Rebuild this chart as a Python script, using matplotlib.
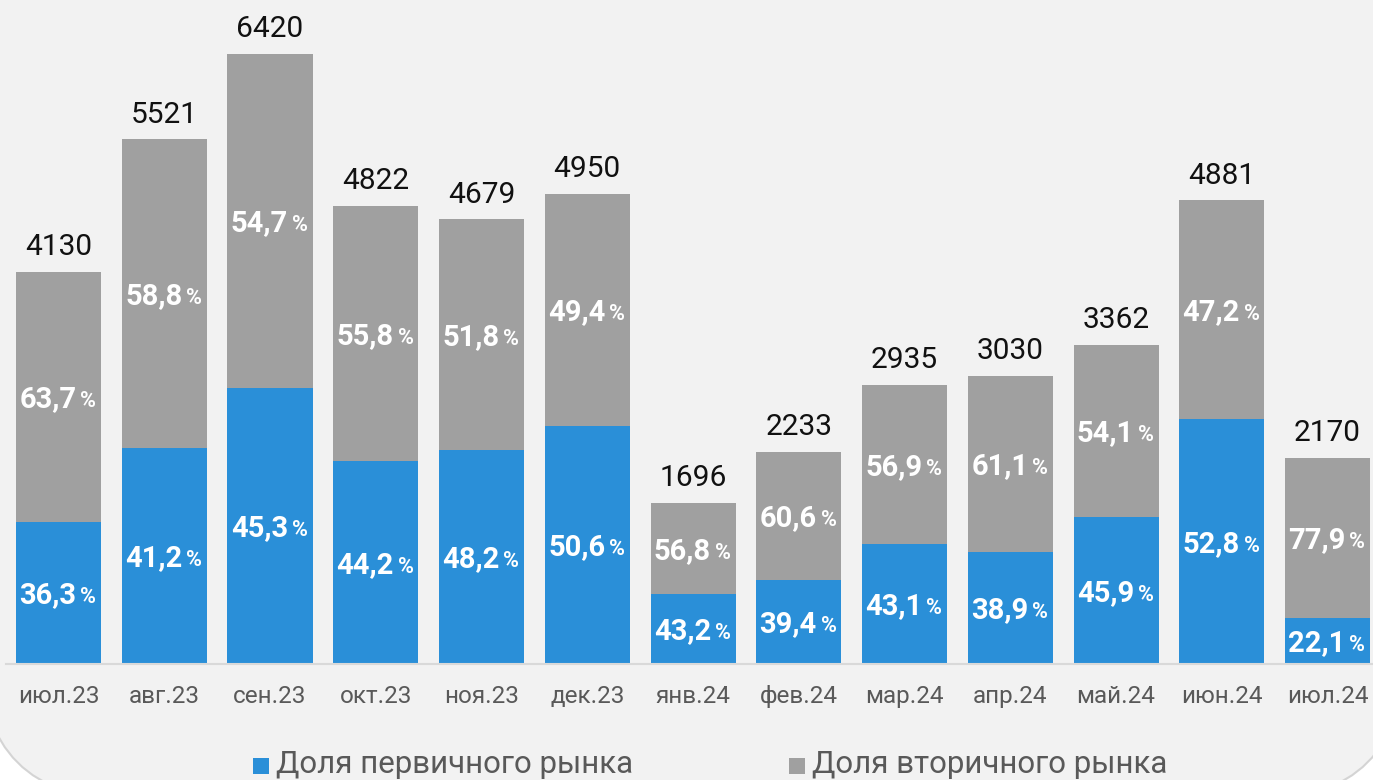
import matplotlib
matplotlib.use('Agg')
import matplotlib.pyplot as plt
from matplotlib.patches import FancyBboxPatch, Rectangle
from matplotlib.transforms import IdentityTransform

plt.rcParams['font.family'] = ['Roboto', 'DejaVu Sans']

months = ['июл.23', 'авг.23', 'сен.23', 'окт.23', 'ноя.23', 'дек.23', 'янв.24',
          'фев.24', 'мар.24', 'апр.24', 'май.24', 'июн.24', 'июл.24']
totals = [4130, 5521, 6420, 4822, 4679, 4950, 1696, 2233, 2935, 3030, 3362, 4881, 2170]
primary = [36.3, 41.2, 45.3, 44.2, 48.2, 50.6, 43.2, 39.4, 43.1, 38.9, 45.9, 52.8, 22.1]
secondary = [63.7, 58.8, 54.7, 55.8, 51.8, 49.4, 56.8, 60.6, 56.9, 61.1, 54.1, 47.2, 77.9]
legend_names = ['Доля первичного рынка', 'Доля вторичного рынка']

blue = '#2a8fd8'
grey = '#a0a0a0'
W, H = 1373, 780

fig = plt.figure(figsize=(W / 100, H / 100), dpi=100, facecolor='white')

# rounded background card (pixel coords)
card = FancyBboxPatch((-20, -20), 1425, 1000, boxstyle='round,pad=0,rounding_size=150',
                      transform=IdentityTransform(), facecolor='#f2f2f2',
                      edgecolor='#d4d4d4', linewidth=1.5, zorder=-5)
fig.patches.append(card)

ax = fig.add_axes([6 / W, 116 / H, 1 - 6 / W, 664 / H])
ax.set_facecolor('none')
ax.set_zorder(2)

x = list(range(len(months)))
blue_h = [t * p / 100 for t, p in zip(totals, primary)]
grey_h = [t * s / 100 for t, s in zip(totals, secondary)]

ax.bar(x, blue_h, width=0.804, color=blue, zorder=2)
ax.bar(x, grey_h, width=0.804, bottom=blue_h, color=grey, zorder=2)

ax.set_xlim(-0.4965, 12.43)
ax.set_ylim(0, 6988)


def pct_label(xc, yc, val):
    s = f'{val:.1f}'.replace('.', ',')
    ax.annotate(s, (xc, yc), xytext=(13, -7.4), textcoords='offset points',
                ha='right', va='baseline', fontsize=21, fontweight='bold',
                color='white', zorder=3)
    ax.annotate('%', (xc, yc), xytext=(15.8, -7.4), textcoords='offset points',
                ha='left', va='baseline', fontsize=15.5, fontweight='bold',
                color='white', zorder=3)


for i in x:
    pct_label(i, blue_h[i] / 2, primary[i])
    pct_label(i, blue_h[i] + grey_h[i] / 2, secondary[i])
    ax.annotate(str(totals[i]), (i, totals[i]), xytext=(0, 12), textcoords='offset points',
                ha='center', va='baseline', fontsize=21.5, color='#111111')

ax.set_xticks(x)
ax.set_xticklabels(months, fontsize=17.5, color='#595959')
ax.tick_params(axis='x', length=0, pad=15)
ax.set_yticks([])
for side in ['top', 'right', 'left']:
    ax.spines[side].set_visible(False)
ax.spines['bottom'].set_color('#d9d9d9')
ax.spines['bottom'].set_linewidth(1.5)

# legend drawn by hand at the bottom
for px, col, name in [(253, blue, legend_names[0]), (789, grey, legend_names[1])]:
    fig.patches.append(Rectangle((px, 6), 16, 16, transform=IdentityTransform(),
                                 facecolor=col, edgecolor='none'))
    fig.text((px + 23) / W, 7 / H, name, fontsize=22.5, color='#595959',
             ha='left', va='baseline')

fig.savefig('out.png', dpi=100, facecolor='white')
